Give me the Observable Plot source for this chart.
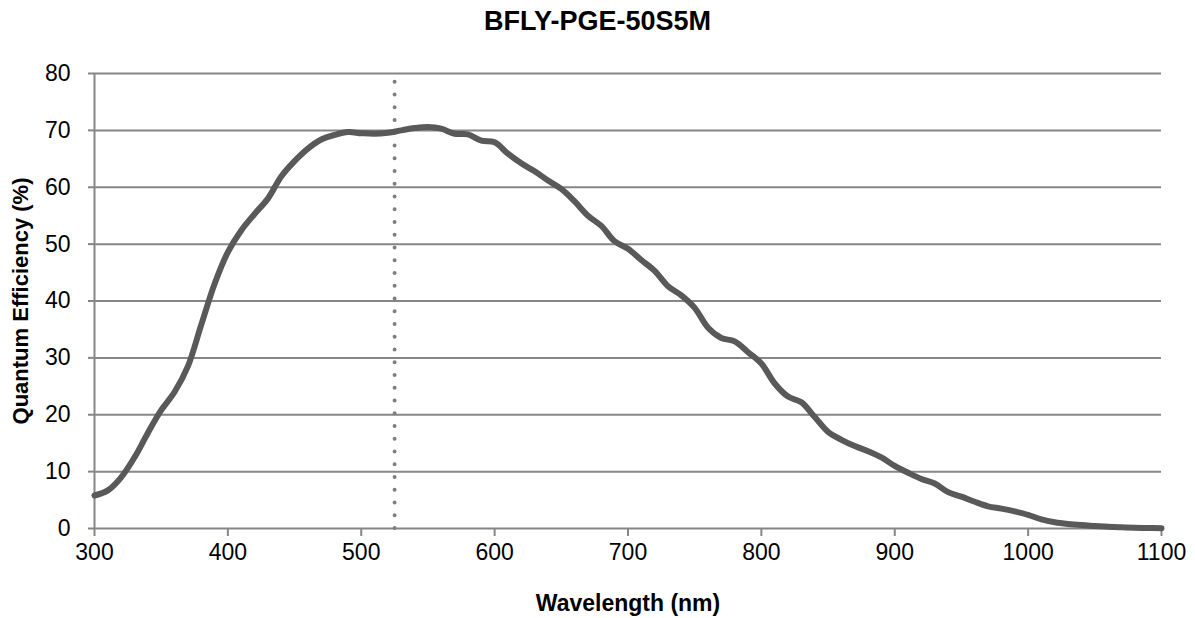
<!DOCTYPE html>
<html>
<head>
<meta charset="utf-8">
<script src="https://cdn.jsdelivr.net/npm/d3@7"></script>
<script src="https://cdn.jsdelivr.net/npm/@observablehq/plot@0.6"></script>
<style>
  body { margin: 0; background: #fff; }
  #title { height: 44px; line-height: 42px; text-align: center; font-family: "Liberation Sans", Arial, sans-serif; font-weight: bold; font-size: 27px; color: #000; width: 1195px; }
</style>
</head>
<body>
<div id="title"></div>
<div id="chart"></div>
<script>
const titleText = "BFLY-PGE-50S5M";
const xLabel = "Wavelength (nm)";
const yLabel = "Quantum Efficiency (%)";

const wavelengths = [300,310,320,330,340,350,360,370,380,390,400,410,420,430,440,450,460,470,480,490,500,510,520,530,540,550,560,570,580,590,600,610,620,630,640,650,660,670,680,690,700,710,720,730,740,750,760,770,780,790,800,810,820,830,840,850,860,870,880,890,900,910,920,930,940,950,960,970,980,990,1000,1010,1020,1030,1040,1050,1060,1070,1080,1090,1100];
const qe = [5.8,6.7,9.0,12.5,16.8,20.8,24.0,28.5,35.8,43.0,48.6,52.4,55.3,58.0,61.9,64.6,66.8,68.4,69.2,69.7,69.5,69.4,69.6,70.0,70.4,70.6,70.3,69.4,69.3,68.2,67.9,65.9,64.2,62.8,61.2,59.7,57.5,55.0,53.2,50.5,49.2,47.2,45.3,42.6,41.0,38.8,35.3,33.5,32.9,31.0,29.0,25.5,23.2,22.2,19.6,17.0,15.6,14.5,13.6,12.5,11.0,9.8,8.7,7.9,6.4,5.6,4.7,3.9,3.5,3.0,2.4,1.6,1.1,0.8,0.6,0.45,0.3,0.2,0.12,0.08,0.05];
const xTicks = [300,400,500,600,700,800,900,1000,1100];
const yTicks = [0,10,20,30,40,50,60,70,80];
const markerWavelength = [525];

const data = wavelengths.map((w, i) => ({w, q: qe[i]}));
const font = '"Liberation Sans", Arial, sans-serif';
const gridColor = "#868686";

document.getElementById("title").textContent = titleText;

const chart = Plot.plot({
  width: 1195,
  height: 574,
  marginTop: 29,
  marginBottom: 90,
  marginLeft: 94,
  marginRight: 34,
  style: {fontFamily: font, fontSize: "23px", color: "#000", background: "#fff"},
  x: {domain: [300, 1100]},
  y: {domain: [0, 80]},
  marks: [
    Plot.ruleY(yTicks, {stroke: gridColor, strokeWidth: 2}),
    Plot.ruleX([300], {stroke: gridColor, strokeWidth: 2}),
    Plot.axisY({ticks: yTicks, tickSize: 6, tickPadding: 18, label: null, stroke: gridColor, strokeWidth: 2, fill: "#000", fontSize: 23}),
    Plot.axisX({ticks: xTicks, tickSize: 8, tickPadding: 7, label: null, tickFormat: d3.format("d"), stroke: gridColor, strokeWidth: 2, fill: "#000", fontSize: 23}),
    Plot.ruleX(markerWavelength, {y1: 0, y2: 78.6, stroke: "#7f7f7f", strokeWidth: 4, strokeDasharray: "0,12.75", strokeLinecap: "round"}),
    Plot.line(data, {x: "w", y: "q", stroke: "#595959", strokeWidth: 6, curve: "catmull-rom"}),
    Plot.text([xLabel], {frameAnchor: "bottom", dy: 82, fontWeight: "bold", fontSize: 23, fill: "#000"}),
    Plot.text([yLabel], {frameAnchor: "left", dx: -74, rotate: -90, textAnchor: "middle", fontWeight: "bold", fontSize: 22, fill: "#000"})
  ]
});
document.getElementById("chart").appendChild(chart);
</script>
</body>
</html>
